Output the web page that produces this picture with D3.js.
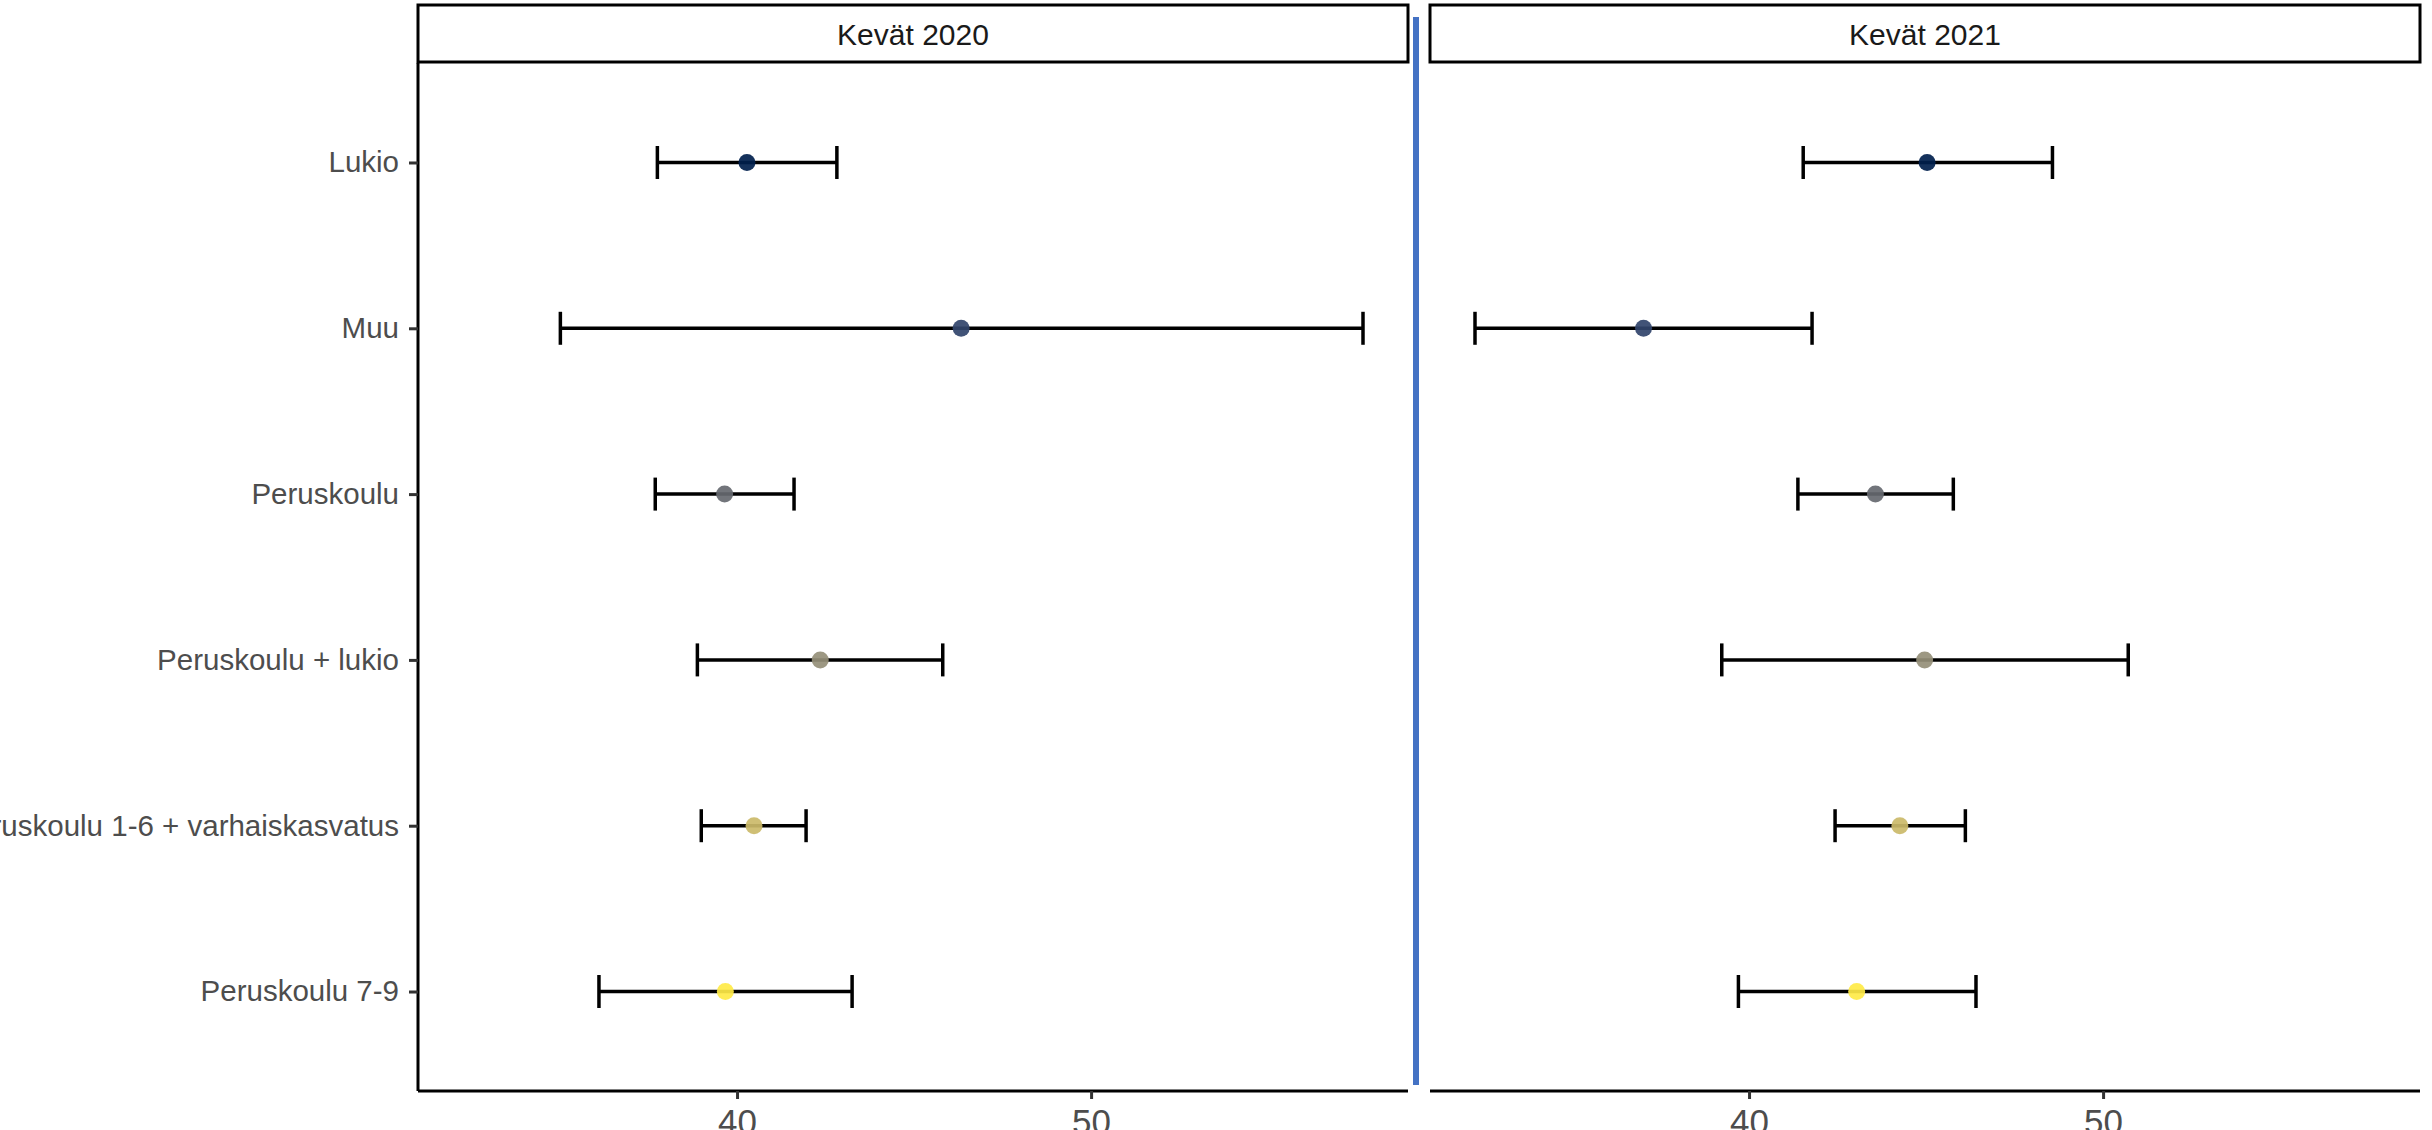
<!DOCTYPE html>
<html>
<head>
<meta charset="utf-8">
<script src="https://cdn.jsdelivr.net/npm/d3@7"></script>
<style>
  html, body { margin: 0; padding: 0; background: #fff; overflow: hidden; }
  svg { display: block; font-family: "Liberation Sans", Arial, sans-serif; }
</style>
</head>
<body>
<svg id="chart" width="2432" height="1130"></svg>
<script>
// ---- data ----
const categories = ["Lukio", "Muu", "Peruskoulu", "Peruskoulu + lukio", "Peruskoulu 1-6 + varhaiskasvatus", "Peruskoulu 7-9"];
const panels = ["Kevät 2020", "Kevät 2021"];
const mean2020 = [40.28, 46.33, 39.65, 42.35, 40.48, 39.67];
const low2020  = [37.75, 35.01, 37.69, 38.88, 38.99, 36.10];
const high2020 = [42.82, 57.68, 41.61, 45.81, 41.95, 43.25];
const mean2021 = [45.03, 37.02, 43.57, 44.96, 44.26, 43.04];
const low2021  = [41.53, 32.26, 41.38, 39.23, 42.43, 39.70];
const high2021 = [48.57, 41.78, 45.77, 50.71, 46.11, 46.41];
const xTicks = [40, 50];
const colors = ["#00204D", "#31446B", "#666970", "#958F78", "#CBBA69", "#FFEA46"];

const panelData = [
  categories.map((c, i) => ({cat: c, mean: mean2020[i], lo: low2020[i], hi: high2020[i], color: colors[i]})),
  categories.map((c, i) => ({cat: c, mean: mean2021[i], lo: low2021[i], hi: high2021[i], color: colors[i]}))
];

// ---- layout ----
const svg = d3.select("#chart");
const plotTop = 63, plotBottom = 1091;
const panelX = [[418, 1408], [1430, 2420]];

const allLo = d3.min([...low2020, ...low2021]);
const allHi = d3.max([...high2020, ...high2021]);
const pad = (allHi - allLo) * 0.05;
const xDomain = [allLo - pad, allHi + pad];

const y = d3.scalePoint().domain(categories).range([plotTop, plotBottom]).padding(0.6);

panelData.forEach((data, p) => {
  const x = d3.scaleLinear().domain(xDomain).range(panelX[p]);
  const g = svg.append("g");

  // strip
  g.append("rect")
    .attr("x", panelX[p][0]).attr("y", 5)
    .attr("width", panelX[p][1] - panelX[p][0]).attr("height", 57)
    .attr("fill", "#fff").attr("stroke", "#000").attr("stroke-width", 3);
  g.append("text")
    .attr("x", (panelX[p][0] + panelX[p][1]) / 2).attr("y", 34)
    .attr("text-anchor", "middle").attr("dominant-baseline", "central")
    .attr("font-size", 30).attr("fill", "#1A1A1A")
    .text(panels[p]);

  // x axis
  const xAxis = d3.axisBottom(x).tickValues(xTicks).tickSize(8).tickPadding(6).tickFormat(d3.format("d"));
  const ax = g.append("g").attr("transform", `translate(0,${plotBottom})`).call(xAxis);
  ax.select(".domain").attr("stroke", "#000").attr("stroke-width", 3)
    .attr("d", `M${panelX[p][0]},0H${panelX[p][1]}`);
  ax.selectAll(".tick line").attr("stroke", "#333").attr("stroke-width", 3);
  ax.selectAll(".tick text").attr("font-size", 35).attr("fill", "#4D4D4D")
    .attr("font-family", "Liberation Sans, Arial, sans-serif")
    .attr("dy", null).attr("y", 43);

  // y axis only on first panel
  if (p === 0) {
    const yAxis = d3.axisLeft(y).tickSize(9).tickPadding(10);
    const ay = g.append("g").attr("transform", `translate(${panelX[0][0]},0)`).call(yAxis);
    ay.select(".domain").attr("stroke", "#000").attr("stroke-width", 3)
      .attr("d", `M0,${plotTop}V${plotBottom}`);
    ay.selectAll(".tick line").attr("stroke", "#333").attr("stroke-width", 3);
    ay.selectAll(".tick text").attr("font-size", 29.5).attr("fill", "#4D4D4D")
      .attr("font-family", "Liberation Sans, Arial, sans-serif");
  }

  // error bars
  const capH = 16.5;
  const sw = 3.5;
  const eb = g.append("g");
  eb.selectAll("line.h").data(data).join("line").attr("class", "h")
    .attr("x1", d => x(d.lo)).attr("x2", d => x(d.hi))
    .attr("y1", d => y(d.cat)).attr("y2", d => y(d.cat))
    .attr("stroke", "#000").attr("stroke-width", sw);
  eb.selectAll("line.lo").data(data).join("line").attr("class", "lo")
    .attr("x1", d => x(d.lo)).attr("x2", d => x(d.lo))
    .attr("y1", d => y(d.cat) - capH).attr("y2", d => y(d.cat) + capH)
    .attr("stroke", "#000").attr("stroke-width", sw);
  eb.selectAll("line.hi").data(data).join("line").attr("class", "hi")
    .attr("x1", d => x(d.hi)).attr("x2", d => x(d.hi))
    .attr("y1", d => y(d.cat) - capH).attr("y2", d => y(d.cat) + capH)
    .attr("stroke", "#000").attr("stroke-width", sw);

  // points
  g.append("g").selectAll("circle").data(data).join("circle")
    .attr("cx", d => x(d.mean)).attr("cy", d => y(d.cat)).attr("r", 8.5)
    .attr("fill", d => d.color).attr("fill-opacity", 0.92);
});

// blue separator line
svg.append("line")
  .attr("x1", 1416).attr("x2", 1416).attr("y1", 17).attr("y2", 1085)
  .attr("stroke", "#4472C4").attr("stroke-width", 6);
</script>
</body>
</html>
